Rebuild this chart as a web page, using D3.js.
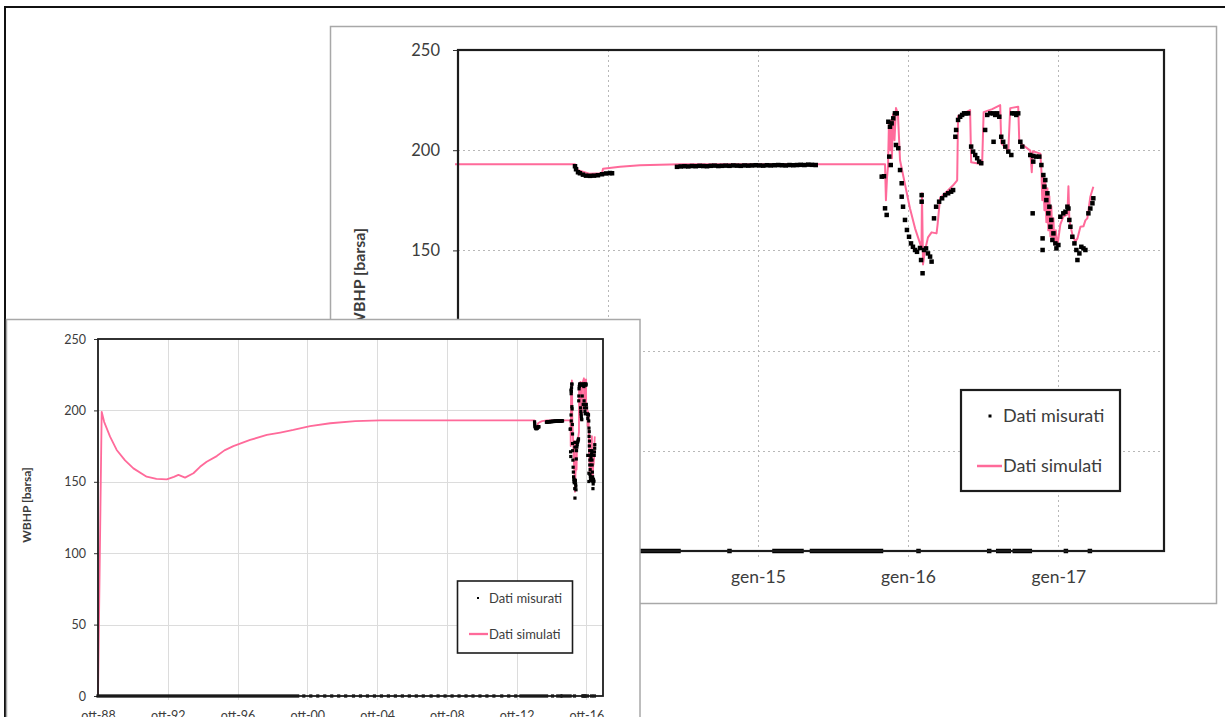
<!DOCTYPE html>
<html>
<head>
<meta charset="utf-8">
<script src="https://cdn.jsdelivr.net/npm/d3@7"></script>
<style>
  body { margin: 0; background: #fff; }
  svg { display: block; font-family: Lato, "Open Sans", "Liberation Sans", sans-serif; }
</style>
</head>
<body>
<svg id="chart" width="1225" height="717"></svg>
<script>
// ---------------------------------------------------------------------------
// Data: well bottom-hole pressure (WBHP, barsa), dates as decimal years
// ---------------------------------------------------------------------------

// Simulated WBHP
const simulated = [
  [1988.75, 0], [1988.96, 199], [1989.10, 192], [1989.44, 181.6], [1989.82, 172.3],
  [1990.30, 165], [1990.78, 159.4], [1991.54, 153.6], [1992.10, 152], [1992.69, 151.7],
  [1993.10, 153.5], [1993.36, 154.8], [1993.74, 152.9], [1994.22, 156], [1994.60, 160.5],
  [1994.98, 164.1], [1995.56, 168], [1996.00, 172], [1996.51, 175], [1997.47, 179.3],
  [1998.43, 182.8], [1999.20, 184.5], [1999.95, 186.3], [2000.91, 189], [2002.06, 191],
  [2003.50, 192.5], [2004.93, 193], [2007.00, 193], [2013.780, 193],
  [2013.800, 190], [2013.880, 188.2], [2013.960, 188.5], [2013.967, 190.8], [2014.080, 191.8],
  [2014.213, 192.5], [2014.480, 193], [2015.847, 193],
  [2015.853, 175], [2015.860, 186], [2015.867, 192], [2015.873, 213], [2015.880, 200],
  [2015.887, 215], [2015.893, 196], [2015.900, 218], [2015.910, 205], [2015.920, 221],
  [2015.933, 218], [2015.947, 195], [2015.980, 183], [2016.013, 171], [2016.047, 161],
  [2016.080, 153.5], [2016.090, 151.5], [2016.093, 178.5], [2016.100, 143], [2016.113, 150],
  [2016.133, 156.5], [2016.157, 159], [2016.190, 158.5], [2016.197, 163], [2016.213, 176],
  [2016.267, 180], [2016.300, 182.5], [2016.327, 185], [2016.333, 217], [2016.373, 218.5],
  [2016.413, 220], [2016.420, 194], [2016.493, 193], [2016.503, 219], [2016.560, 220.5],
  [2016.613, 222.5], [2016.620, 203.5], [2016.667, 199.5], [2016.680, 221], [2016.733, 221.7],
  [2016.740, 204], [2016.813, 199.8], [2016.823, 189], [2016.830, 199.5], [2016.880, 198.3],
  [2016.887, 190], [2016.893, 175], [2016.900, 188], [2016.907, 170], [2016.913, 185],
  [2016.920, 164], [2016.927, 181], [2016.933, 160], [2016.940, 177], [2016.947, 157],
  [2016.953, 172], [2016.960, 155], [2016.967, 166], [2016.973, 153], [2016.983, 160],
  [2016.993, 152], [2017.013, 163], [2017.033, 166.8], [2017.060, 168], [2017.067, 182],
  [2017.073, 165], [2017.093, 158], [2017.113, 154.3], [2017.127, 156], [2017.147, 161.8],
  [2017.167, 162], [2017.180, 165], [2017.193, 166], [2017.213, 176.8], [2017.233, 181.8]
];

// Measured WBHP (gauge readings)
const measured = [
  // late-2013 drawdown
  [2013.780, 192], [2013.787, 190.5], [2013.800, 189], [2013.813, 188.5], [2013.833, 187.8],
  [2013.853, 187.3], [2013.880, 187.2], [2013.907, 187.3], [2013.933, 187.5], [2013.960, 188],
  [2013.987, 188.4], [2014.013, 188.6], [2014.027, 188.5],
  // stable period
  [2014.460, 191.7], [2014.485, 191.9], [2014.510, 192.0], [2014.535, 191.9], [2014.560, 192.1],
  [2014.585, 192.0], [2014.610, 192.2], [2014.635, 192.1], [2014.660, 192.0], [2014.685, 192.2],
  [2014.710, 192.3], [2014.735, 192.1], [2014.760, 192.2], [2014.785, 192.3], [2014.810, 192.2],
  [2014.835, 192.4], [2014.860, 192.3], [2014.885, 192.2], [2014.910, 192.4], [2014.935, 192.3],
  [2014.960, 192.4], [2014.985, 192.5], [2015.010, 192.4], [2015.035, 192.3], [2015.060, 192.5],
  [2015.085, 192.4], [2015.110, 192.5], [2015.135, 192.6], [2015.160, 192.5], [2015.185, 192.4],
  [2015.210, 192.6], [2015.235, 192.5], [2015.260, 192.6], [2015.285, 192.7], [2015.310, 192.6],
  [2015.335, 192.8], [2015.360, 192.7], [2015.385, 192.6],
  // production tests 2015-2017
  [2015.825, 186.8], [2015.840, 187], [2015.847, 171], [2015.858, 167.7], [2015.869, 214.2],
  [2015.875, 196.8], [2015.880, 211.7], [2015.885, 192.6], [2015.891, 213.4], [2015.902, 215.9],
  [2015.913, 218.4], [2015.920, 202.6], [2015.925, 218.4], [2015.935, 201], [2015.947, 190.1],
  [2015.958, 183.5], [2015.958, 176.8], [2015.967, 171.8], [2015.980, 165.2], [2015.993, 160.2],
  [2016.007, 156.8], [2016.020, 153.5], [2016.033, 151.8], [2016.047, 150.2], [2016.060, 149.3],
  [2016.080, 151.2], [2016.087, 145.2], [2016.097, 138.6], [2016.091, 177.6], [2016.091, 174.3],
  [2016.107, 150.2], [2016.120, 151], [2016.133, 148.5], [2016.147, 146.9], [2016.157, 144.4],
  [2016.173, 166], [2016.187, 171.8], [2016.207, 174.3], [2016.227, 176], [2016.247, 177.6],
  [2016.267, 178.5], [2016.287, 179.3], [2016.300, 180.1], [2016.315, 206.7], [2016.320, 210.1],
  [2016.333, 215.1], [2016.347, 216.7], [2016.360, 217.6], [2016.373, 218.4], [2016.387, 218.4],
  [2016.400, 218.4], [2016.420, 201.8], [2016.433, 199.3], [2016.447, 197.6], [2016.460, 196],
  [2016.473, 194.3], [2016.487, 193.5], [2016.513, 210.1], [2016.527, 217.6], [2016.547, 218.4],
  [2016.567, 218.4], [2016.569, 204.2], [2016.580, 217.6], [2016.593, 218.4], [2016.607, 216.7],
  [2016.620, 206.7], [2016.633, 204.2], [2016.647, 201.8], [2016.667, 199.3], [2016.687, 197.6],
  [2016.693, 218.4], [2016.707, 218.4], [2016.720, 217.6], [2016.733, 218.4], [2016.747, 204.2],
  [2016.760, 201.8], [2016.813, 197.6], [2016.829, 168.5], [2016.833, 197.1], [2016.833, 194.3],
  [2016.853, 196.8], [2016.873, 196.8], [2016.887, 192.6], [2016.895, 156], [2016.895, 150.2],
  [2016.900, 187.6], [2016.907, 181.8], [2016.913, 185.1], [2016.920, 175.1], [2016.927, 178.5],
  [2016.933, 168.5], [2016.940, 171.8], [2016.947, 161.8], [2016.953, 165.2], [2016.960, 155.2],
  [2016.967, 158.5], [2016.980, 153.5], [2016.987, 151], [2017.000, 152.7], [2017.013, 166.8],
  [2017.033, 168.5], [2017.047, 169.3], [2017.060, 171.8], [2017.067, 170.9], [2017.073, 165.2],
  [2017.080, 161.8], [2017.093, 156.8], [2017.107, 153.5], [2017.120, 150.2], [2017.127, 145.2],
  [2017.140, 148.5], [2017.153, 151.8], [2017.167, 151], [2017.180, 150.2], [2017.200, 168.5],
  [2017.213, 170.9], [2017.227, 173.5], [2017.233, 176]
];

// Measured readings recorded as 0 (no gauge data): continuous runs [from, to]
const measuredZeroRuns = [
  [1988.75, 2000.20], [2013.00, 2014.47], [2015.11, 2015.29], [2015.36, 2015.82],
  [2016.60, 2016.67], [2016.71, 2016.81]
];
// ...and isolated zero readings
const measuredZeroDots = [
  2000.55, 2000.95, 2001.35, 2001.75, 2002.15, 2002.55, 2002.95, 2003.40, 2003.80, 2004.20,
  2004.60, 2005.00, 2005.40, 2005.80, 2006.20, 2006.60, 2007.00, 2007.40, 2007.85, 2008.25,
  2008.65, 2009.05, 2009.45, 2009.85, 2010.25, 2010.65, 2011.05, 2011.45, 2011.90, 2012.30,
  2012.70, 2014.81, 2016.07, 2016.54, 2017.05, 2017.21
];

// Axis ticks
const yTickValues = [0, 50, 100, 150, 200, 250];
const zoomTickYears = [2013, 2014, 2015, 2016, 2017];           // January ticks ("gen-YY")
const fullTickYears = [1988, 1992, 1996, 2000, 2004, 2008, 2012, 2016]; // October ticks ("ott-YY")

const seriesNames = ["Dati misurati", "Dati simulati"];
const yTitle = "WBHP [barsa]";

// ---------------------------------------------------------------------------
const PINK = "#ff6a9a";
const TEXT = "#3c3c3c";

function fromYear(d) {
  const y = Math.floor(d);
  const a = new Date(y, 0, 1), b = new Date(y + 1, 0, 1);
  return new Date(+a + (d - y) * (b - a));
}
const END_DATE = new Date(2017, 8, 15);
const yy = y => String(y % 100).padStart(2, "0");

const svg = d3.select("#chart");

// outer frame of the slide
svg.append("path").attr("d", "M5,717V7H1225")
  .attr("fill", "none").attr("stroke", "#111").attr("stroke-width", 2);

function drawPanel(o) {
  const g = svg.append("g");

  // panel card
  g.append("rect").attr("x", o.card[0]).attr("y", o.card[1])
    .attr("width", o.card[2]).attr("height", o.card[3])
    .attr("fill", "#fff").attr("stroke", "#a8a8a8").attr("stroke-width", 1.5);

  const x = d3.scaleTime().domain([o.start, END_DATE]).range([o.left, o.right]);
  const y = d3.scaleLinear().domain([0, 250]).range([o.bottom, o.top]);

  // grid
  const grid = g.append("g").attr("stroke", o.gridColor).attr("stroke-width", 1)
    .attr("stroke-dasharray", o.gridDash);
  grid.selectAll("line.h").data(yTickValues.filter(v => v > 0 && v < 250)).join("line")
    .attr("class", "h")
    .attr("x1", o.left).attr("x2", o.right)
    .attr("y1", d => Math.round(y(d)) + 0.5).attr("y2", d => Math.round(y(d)) + 0.5);
  grid.selectAll("line.v").data(o.ticks.filter(d => d > o.start)).join("line")
    .attr("class", "v")
    .attr("x1", d => Math.round(x(d)) + 0.5).attr("x2", d => Math.round(x(d)) + 0.5)
    .attr("y1", o.top).attr("y2", o.bottom + o.gridExt);

  // y axis
  const ya = g.append("g").attr("transform", `translate(${o.left},0)`)
    .call(d3.axisLeft(y).tickValues(yTickValues).tickSize(o.tickLen).tickPadding(o.tickPad));
  ya.select(".domain").remove();
  ya.selectAll("line").attr("stroke", "#333");
  ya.selectAll("text").attr("fill", TEXT).attr("font-size", o.yFont)
    .attr("font-family", "Lato, 'Open Sans', sans-serif");

  // x axis labels
  const xa = g.append("g").attr("transform", `translate(0,${o.bottom})`)
    .call(d3.axisBottom(x).tickValues(o.ticks.filter(o.showTick)).tickSize(0)
      .tickFormat(o.fmt));
  xa.select(".domain").remove();
  xa.selectAll("text").attr("fill", TEXT).attr("font-size", o.xFont)
    .attr("font-family", "Lato, 'Open Sans', sans-serif")
    .attr("y", o.xLabelY).attr("dy", 0);

  // y title
  g.append("text")
    .attr("transform", `translate(${o.titleX},${o.titleY}) rotate(-90)`)
    .attr("text-anchor", o.titleAnchor).attr("font-weight", "bold")
    .attr("font-size", o.titleFont).attr("fill", TEXT).text(yTitle);

  // plotting area clip
  g.append("clipPath").attr("id", o.id)
    .append("rect").attr("x", o.left - 3).attr("y", o.top - 3)
    .attr("width", o.right - o.left + 6).attr("height", o.bottom - o.top + 6);
  const plot = g.append("g").attr("clip-path", `url(#${o.id})`);

  // simulated line
  plot.append("path").datum(simulated)
    .attr("fill", "none").attr("stroke", PINK).attr("stroke-width", o.lineW)
    .attr("stroke-linejoin", "round")
    .attr("d", d3.line().x(d => x(fromYear(d[0]))).y(d => y(d[1])));

  // plot frame (baseline under the zero readings)
  g.append("rect").attr("x", o.left).attr("y", o.top)
    .attr("width", o.right - o.left).attr("height", o.bottom - o.top)
    .attr("fill", "none").attr("stroke", "#1c1c1c").attr("stroke-width", o.frameW);

  // measured readings
  const m = o.marker;
  plot.append("g").selectAll("rect").data(measured).join("rect")
    .attr("x", d => x(fromYear(d[0])) - m / 2).attr("y", d => y(d[1]) - m / 2)
    .attr("width", m).attr("height", m).attr("fill", "#000");
  plot.append("g").selectAll("rect").data(measuredZeroRuns).join("rect")
    .attr("x", d => x(fromYear(d[0])) - m / 2).attr("y", y(0) - m / 2)
    .attr("width", d => x(fromYear(d[1])) - x(fromYear(d[0])) + m).attr("height", m)
    .attr("fill", "#000");
  plot.append("g").selectAll("rect").data(measuredZeroDots).join("rect")
    .attr("x", d => x(fromYear(d)) - m / 2).attr("y", y(0) - m / 2)
    .attr("width", m).attr("height", m).attr("fill", "#000");

  // legend
  const L = o.legend;
  const lg = g.append("g");
  lg.append("rect").attr("x", L.x).attr("y", L.y).attr("width", L.w).attr("height", L.h)
    .attr("fill", "#fff").attr("stroke", "#1c1c1c").attr("stroke-width", L.border);
  lg.append("rect").attr("x", L.dotX - L.dot / 2).attr("y", L.row1 - L.dot / 2)
    .attr("width", L.dot).attr("height", L.dot).attr("fill", "#000");
  lg.append("line").attr("x1", L.lineX1).attr("x2", L.lineX2)
    .attr("y1", L.row2).attr("y2", L.row2).attr("stroke", PINK).attr("stroke-width", o.lineW + 0.5);
  lg.selectAll("text").data(seriesNames).join("text")
    .attr("x", L.textX).attr("y", (d, i) => (i ? L.row2 : L.row1) + L.font * 0.36)
    .attr("font-size", L.font).attr("fill", TEXT).text(d => d);
}

// zoomed panel, 2013-2017
drawPanel({
  id: "clipZoom",
  card: [330.5, 26.5, 886, 577],
  start: new Date(2013, 0, 1),
  left: 458, right: 1164, top: 50, bottom: 551,
  ticks: zoomTickYears.map(yr => new Date(yr, 0, 1)),
  showTick: d => d.getFullYear() >= 2015,
  fmt: d => "gen-" + yy(d.getFullYear()),
  gridColor: "#b8b8b8", gridDash: "2,3", gridExt: 8,
  tickLen: 5, tickPad: 13, yFont: 16.5, xFont: 17.5, xLabelY: 32,
  titleX: 365, titleY: 228, titleAnchor: "end", titleFont: 16,
  lineW: 2, frameW: 2.2, marker: 4.5,
  legend: { x: 961, y: 390, w: 159, h: 101, border: 2.2, dot: 3, dotX: 990, row1: 416,
            lineX1: 977, lineX2: 1002, row2: 466, textX: 1003, font: 18 }
});

// full history panel, 1988-2017
drawPanel({
  id: "clipFull",
  card: [6.5, 319.5, 633.5, 420],
  start: new Date(1988, 9, 1),
  left: 98, right: 603, top: 339, bottom: 696,
  ticks: fullTickYears.map(yr => new Date(yr, 9, 1)),
  showTick: () => true,
  fmt: d => "ott-" + yy(d.getFullYear()),
  gridColor: "#dcdcdc", gridDash: null, gridExt: 4,
  tickLen: 4, tickPad: 8, yFont: 12.5, xFont: 12.5, xLabelY: 24,
  titleX: 31, titleY: 505, titleAnchor: "middle", titleFont: 12,
  lineW: 1.8, frameW: 1.8, marker: 3.2,
  legend: { x: 457.5, y: 581, w: 115, h: 72, border: 1.6, dot: 2, dotX: 478, row1: 598,
            lineX1: 469, lineX2: 488, row2: 634, textX: 489, font: 13 }
});
</script>
</body>
</html>
